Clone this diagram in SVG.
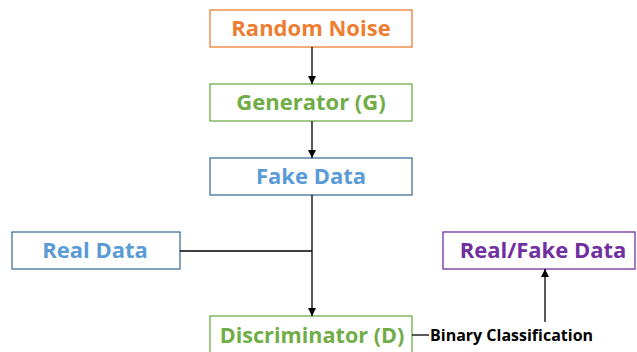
<svg xmlns="http://www.w3.org/2000/svg" width="637" height="352" viewBox="0 0 637 352">
<defs>
<marker id="ah" viewBox="0 0 10 10" refX="10" refY="5" markerWidth="8" markerHeight="8" markerUnits="userSpaceOnUse" orient="auto">
<path d="M0,0 L10,5 L0,10 z" fill="#000"/>
</marker>
<style>
.box{fill:#fff;stroke-width:1.3}
.t{font-family:"Open Sans",sans-serif;font-weight:bold;font-size:22px;text-anchor:middle}
.c{stroke:#000;stroke-width:1.3;fill:none}
</style>
</defs>
<rect width="637" height="352" fill="#fff"/>
<g id="random-noise">
<rect class="box" x="210" y="10" width="202" height="37" stroke="#ED7D31"/>
<text class="t" x="311" y="36" fill="#ED7D31">Random Noise</text>
</g>
<g id="generator">
<rect class="box" x="210" y="84" width="202" height="37" stroke="#70AD47"/>
<text class="t" x="311" y="110" fill="#70AD47">Generator (G)</text>
</g>
<g id="fake-data">
<rect class="box" x="210" y="158" width="202" height="37" stroke="#41719C"/>
<text class="t" x="311" y="184" fill="#5B9BD5">Fake Data</text>
</g>
<g id="real-data">
<rect class="box" x="12" y="232" width="168" height="37" stroke="#41719C"/>
<text class="t" x="95" y="258" fill="#5B9BD5">Real Data</text>
</g>
<g id="real-fake-data">
<rect class="box" x="443" y="232" width="192" height="37" stroke="#7030A0"/>
<text class="t" x="543" y="258" fill="#7030A0">Real/Fake Data</text>
</g>
<g id="discriminator">
<rect class="box" x="210" y="316" width="202" height="45" stroke="#70AD47"/>
<text class="t" x="312" y="343" fill="#70AD47" style="font-size:21.6px">Discriminator (D)</text>
</g>
<g id="binary-classification">
<text x="430" y="341" style="font-family:'Open Sans',sans-serif;font-weight:bold;font-size:16px" fill="#000">Binary Classification</text>
</g>
<g id="connectors">
<line class="c" x1="312" y1="47" x2="312" y2="84" marker-end="url(#ah)"/>
<line class="c" x1="312" y1="121" x2="312" y2="158" marker-end="url(#ah)"/>
<line class="c" x1="312" y1="195" x2="312" y2="316" marker-end="url(#ah)"/>
<line class="c" x1="180" y1="251" x2="312" y2="251"/>
<line class="c" x1="412" y1="335" x2="429" y2="335"/>
<line class="c" x1="545" y1="322" x2="545" y2="269" marker-end="url(#ah)"/>
</g>
</svg>
